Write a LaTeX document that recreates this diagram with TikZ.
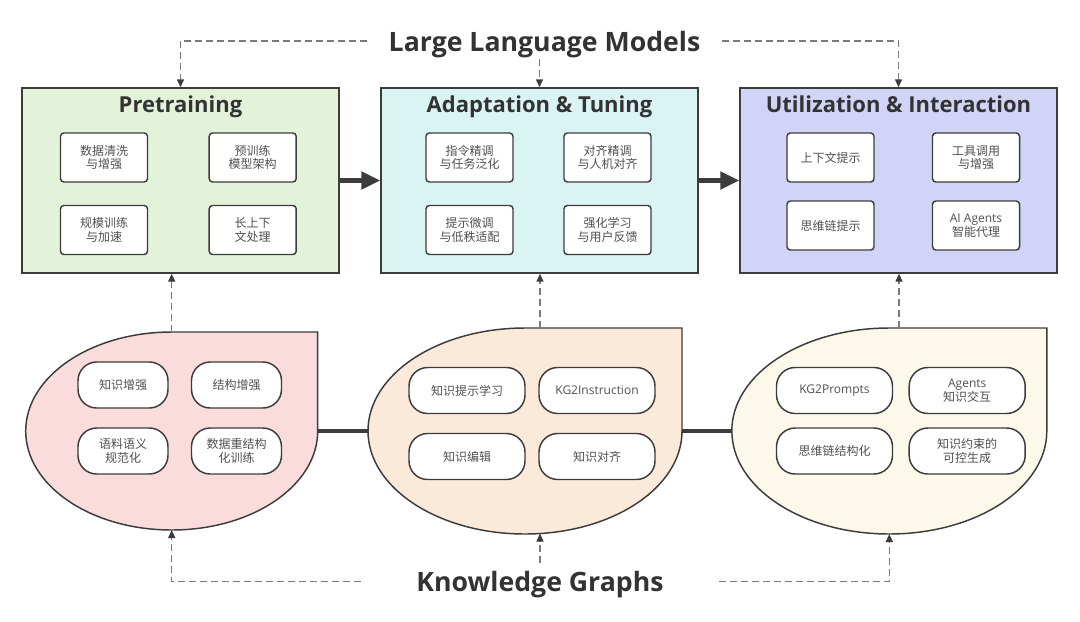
\documentclass[tikz,border=0pt]{standalone}
\usepackage{fontspec}
\setmainfont{Open Sans}
\newfontfamily\cjk{Noto Sans CJK SC}
\usepackage{xcolor}
\usepackage{tikz}
\usetikzlibrary{calc}
\usetikzlibrary{arrows.meta}
\usetikzlibrary{positioning}

\definecolor{linegray}{HTML}{3C3C3C}
\definecolor{dashgray}{HTML}{7A7A7A}
\definecolor{textgray}{HTML}{505050}
\definecolor{titlegray}{HTML}{333333}
\definecolor{pregreen}{HTML}{E2F3DA}
\definecolor{adacyan}{HTML}{D9F4F3}
\definecolor{utilblue}{HTML}{D2D4F7}
\definecolor{kgpink}{HTML}{F9DCDB}
\definecolor{kgpeach}{HTML}{FBE9DA}
\definecolor{kgcream}{HTML}{FCF8EA}

\begin{document}
\begin{tikzpicture}[x=0.75pt,y=-0.75pt]
    \tikzstyle{stage}=[draw=linegray,line width=1.1pt,minimum width=237.75pt,minimum height=138.75pt,inner sep=0pt]
    \tikzstyle{stagetitle}=[anchor=base,text=titlegray,font=\fontsize{16.5}{20}\selectfont\bfseries]
    \tikzstyle{bigtitle}=[anchor=base,text=titlegray,font=\fontsize{20}{24}\selectfont\bfseries,text height=15pt,text depth=0pt,inner ysep=6pt]
    \tikzstyle{cell}=[draw=linegray,line width=1.1pt,fill=white,rounded corners=2.5pt,minimum width=65.25pt,minimum height=36.75pt,align=center,text=textgray,font=\cjk\fontsize{9}{10.3}\selectfont,inner sep=1pt]
    \tikzstyle{pill}=[cell,rounded corners=14pt,minimum height=34.5pt,minimum width=67.5pt]
    \tikzstyle{widepill}=[pill,minimum width=87pt]
    \tikzstyle{blob}=[draw=linegray,line width=1.1pt]
    \tikzstyle{flow}=[draw=linegray,line width=3.75pt,-{Triangle[length=14.25pt,width=12.75pt]}]
    \tikzstyle{link}=[draw=linegray,line width=3pt]
    \tikzstyle{feed}=[draw=dashgray,line width=1.1pt,dash pattern=on 5.25pt off 3pt,-{Triangle[length=6pt,width=5.25pt,color=linegray]}]

    \useasboundingbox (0,0) rectangle (1080,621);

    \def\ry{77.25pt}

    % titles
    \node[bigtitle,inner xsep=15.75pt] (LLM) at (544.5,51) {Large Language Models};
    \node[bigtitle,inner xsep=41pt] (KG) at (540,591.5) {Knowledge Graphs};

    % LLM stages
    \node[stage,fill=pregreen] (P) at (180.5,180.5) {};
    \node[stage,fill=adacyan] (A) at (539.5,180.5) {};
    \node[stage,fill=utilblue] (U) at (898.5,180.5) {};

    \node[stagetitle] (Ptitle) at (180.5,112) {Pretraining};
    \node[stagetitle] (Atitle) at (539.5,112) {Adaptation \& Tuning};
    \node[stagetitle] (Utitle) at (898.5,112) {Utilization \& Interaction};

    \node[cell] (p1) at (104,157.5) {数据清洗\\与增强};
    \node[cell] (p2) at (252.7,157.5) {预训练\\模型架构};
    \node[cell] (p3) at (104,230) {规模训练\\与加速};
    \node[cell] (p4) at (252.7,230) {长上下\\文处理};

    \node[cell] (a1) at (469.5,157.5) {指令精调\\与任务泛化};
    \node[cell] (a2) at (607.5,157.5) {对齐精调\\与人机对齐};
    \node[cell] (a3) at (469.5,230) {提示微调\\与低秩适配};
    \node[cell] (a4) at (607.5,230) {强化学习\\与用户反馈};

    \node[cell] (u1) at (830.5,157.5) {上下文提示};
    \node[cell] (u2) at (976,157.5) {工具调用\\与增强};
    \node[cell] (u3) at (830.5,225.5) {思维链提示};
    \node[cell] (u4) at (976,225.5) {{\rmfamily AI Agents}\\智能代理};

    \draw[flow] (P.east) -- (A.west);
    \draw[flow] (A.east) -- (U.west);

    % KG blobs
    \coordinate (kgP-w) at (25.7,431);
    \coordinate (kgP-e) at (317.7,431);
    \coordinate (kgP-n) at (171.7,332);
    \coordinate (kgP-s) at (171.7,530);
    \draw[blob,fill=kgpink] (kgP-w) arc[start angle=180,end angle=90,x radius=109.5pt,y radius=74.25pt]
      -| (kgP-e) arc[start angle=0,end angle=-180,x radius=109.5pt,y radius=74.25pt] -- cycle;

    \coordinate (kgA-w) at (368,431);
    \coordinate (kgA-e) at (682,431);
    \coordinate (kgA-n) at (540,328);
    \coordinate (kgA-s) at (540,533.5);
    \draw[blob,fill=kgpeach] (kgA-w) arc[start angle=180,end angle=90,x radius=117.75pt,y radius=\ry]
      -| (kgA-e) arc[start angle=0,end angle=-180,x radius=117.75pt,y radius=\ry] -- cycle;

    \coordinate (kgU-w) at (731.8,431);
    \coordinate (kgU-e) at (1046.8,431);
    \coordinate (kgU-n) at (899,328);
    \coordinate (kgU-s) at (889.3,534);
    \draw[blob,fill=kgcream] (kgU-w) arc[start angle=180,end angle=90,x radius=118.1pt,y radius=\ry]
      -| (kgU-e) arc[start angle=0,end angle=-180,x radius=118.1pt,y radius=\ry] -- cycle;

    \draw[link] (kgP-e) -- (kgA-w);
    \draw[link] (kgA-e) -- (kgU-w);

    \node[pill] (k1) at (123,385) {知识增强};
    \node[pill] (k2) at (236.5,385) {结构增强};
    \node[pill] (k3) at (123,451) {语料语义\\规范化};
    \node[pill] (k4) at (236.5,451) {数据重结构\\化训练};

    \node[widepill] (t1) at (467,390.5) {知识提示学习};
    \node[widepill] (t2) at (597,390.5) {\rmfamily KG2Instruction};
    \node[widepill] (t3) at (467,456.5) {知识编辑};
    \node[widepill] (t4) at (597,456.5) {知识对齐};

    \node[widepill] (i1) at (834.5,390.5) {\rmfamily KG2Prompts};
    \node[widepill] (i2) at (967.2,390.5) {{\rmfamily Agents}\\知识交互};
    \node[widepill] (i3) at (834.5,451) {思维链结构化};
    \node[widepill] (i4) at (967.2,451) {知识约束的\\可控生成};

    % dashed feeds
    \draw[feed] (LLM.west) -| (P.north);
    \draw[feed] (LLM.south -| A.north) -- (A.north);
    \draw[feed] (LLM.east) -| (U.north);

    \draw[feed] (kgP-n) -- (kgP-n |- P.south);
    \draw[feed] (kgA-n) -- (kgA-n |- A.south);
    \draw[feed] (kgU-n) -- (kgU-n |- U.south);

    \draw[feed] (KG.west) -| (kgP-s);
    \draw[feed] (KG.north) -- (kgA-s);
    \draw[feed] (KG.east) -| (kgU-s);
\end{tikzpicture}
\end{document}
